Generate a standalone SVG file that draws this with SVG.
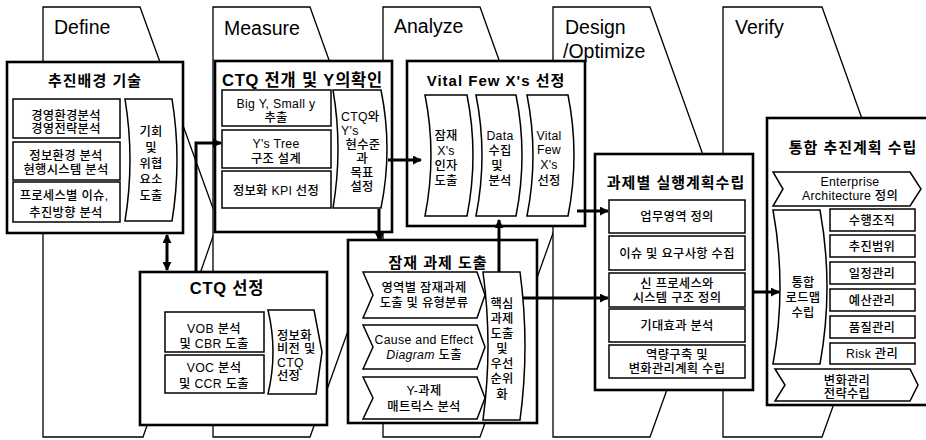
<svg xmlns="http://www.w3.org/2000/svg" width="926" height="440" viewBox="0 0 926 440">
<defs>
<marker id="ah" viewBox="0 0 10 10" refX="9" refY="5" markerWidth="3" markerHeight="3" orient="auto-start-reverse"><path d="M0,0 L10,5 L0,10 Z" fill="#000"/></marker>
<style>
.phase{fill:#fff;stroke:#000;stroke-width:1.3}
.box{fill:#fff;stroke:#000;stroke-width:2.6}
.ibox{fill:#fff;stroke:#000;stroke-width:1.5}
.ph{font-family:"Liberation Sans",Arial,sans-serif;font-size:19.5px;fill:#000}
.t{font-family:"Liberation Sans","Noto Sans CJK KR",sans-serif;font-size:12.3px;font-weight:500;letter-spacing:0.3px;text-anchor:middle;fill:#000}
.s{text-anchor:start}
.ttl{font-size:15px;font-weight:bold;letter-spacing:1px}
.big{font-size:16.5px;font-weight:bold;letter-spacing:0.8px}
.it{font-style:italic}
.conn{stroke:#000;stroke-width:3;fill:none}
</style>
</defs>
<rect width="926" height="440" fill="#fff"/>

<g id="phase-define"><path class="phase" d="M43,437 L43,7 L140,7 L218,222 L143,437 Z"/><text class="ph" x="54" y="34">Define</text></g>
<g id="phase-measure"><path class="phase" d="M213,437 L213,7 L310,7 L387,222 L310,437 Z"/><text class="ph" x="224" y="35">Measure</text></g>
<g id="phase-analyze"><path class="phase" d="M383,437 L383,7 L480,7 L557,222 L480,437 Z"/><text class="ph" x="394" y="33">Analyze</text></g>
<g id="phase-design"><path class="phase" d="M553,437 L553,7 L650,7 L727,222 L650,437 Z"/><text class="ph" x="565" y="34">Design</text><text class="ph" x="563" y="58">/Optimize</text></g>
<g id="phase-verify"><path class="phase" d="M723,437 L723,7 L822,7 L899,222 L822,437 Z"/><text class="ph" x="735" y="34">Verify</text></g>

<g id="node-background">
<rect class="box" x="7" y="62" width="176" height="171"/>
<text class="t ttl" x="95" y="86">추진배경 기술</text>
<rect class="ibox" x="13" y="99" width="107" height="39"/>
<text class="t" x="66" y="120">경영환경분석</text><text class="t" x="66" y="133">경영전략분석</text>
<rect class="ibox" x="13" y="142" width="107" height="38"/>
<text class="t" x="66" y="159.5">정보환경 분석</text><text class="t" x="66" y="173.5">현행시스템 분석</text>
<rect class="ibox" x="13" y="182" width="107" height="40"/>
<text class="t" x="64" y="199.5">프로세스별 이슈,</text><text class="t" x="66" y="216.5">추진방향 분석</text>
<path class="ibox" d="M125,99 Q135,160 125,221 L172,221 Q182,160 172,99 Z"/>
<text class="t" x="151" y="136">기회</text><text class="t" x="151" y="152">및</text><text class="t" x="151" y="168">위협</text><text class="t" x="151" y="184">요소</text><text class="t" x="151" y="200">도출</text>
</g>

<g id="node-ctq-deploy">
<rect class="box" x="215" y="61" width="177" height="171"/>
<text class="t big s" x="222" y="86">CTQ 전개 및 Y의확인</text>
<rect class="ibox" x="222" y="90" width="109" height="36"/>
<text class="t" x="276" y="107.5">Big Y, Small y</text><text class="t" x="276" y="121.5">추출</text>
<rect class="ibox" x="222" y="130" width="109" height="38"/>
<text class="t" x="276" y="147.5">Y's Tree</text><text class="t" x="276" y="162.5">구조 설계</text>
<rect class="ibox" x="222" y="171" width="109" height="37"/>
<text class="t" x="276" y="194.5">정보화 KPI 선정</text>
<path class="ibox" d="M333,90 Q343,149 333,208 L381,208 Q393,149 381,90 Z"/>
<text class="t s" x="341" y="121">CTQ와</text><text class="t s" x="341" y="135">Y's</text><text class="t" x="363" y="149">현수준</text><text class="t" x="362" y="163">과</text><text class="t" x="362" y="177">목표</text><text class="t" x="362" y="191">설정</text>
</g>

<g id="node-vital-few">
<rect class="box" x="407" y="61" width="178" height="165"/>
<text class="t ttl" x="496" y="86">Vital Few X's 선정</text>
<path class="ibox" d="M425,95 Q437,155 425,216 L467,216 Q479,155 467,95 Z"/>
<text class="t" x="446" y="139.5">잠재</text><text class="t" x="446" y="154.5">X's</text><text class="t" x="446" y="169.5">인자</text><text class="t" x="446" y="184.5">도출</text>
<path class="ibox" d="M476,95 Q488,155 476,216 L516,216 Q528,155 516,95 Z"/>
<text class="t" x="500" y="139.5">Data</text><text class="t" x="500" y="154.5">수집</text><text class="t" x="497" y="169.5">및</text><text class="t" x="500" y="184.5">분석</text>
<path class="ibox" d="M527,95 Q539,155 527,216 L568,216 Q580,155 568,95 Z"/>
<text class="t" x="549" y="139.5">Vital</text><text class="t" x="549" y="153.5">Few</text><text class="t" x="549" y="168.5">X's</text><text class="t" x="549" y="184.5">선정</text>
</g>

<g id="node-ctq-select">
<rect class="box" x="140" y="272" width="187" height="153"/>
<text class="t big" x="227" y="294">CTQ 선정</text>
<rect class="ibox" x="165" y="312" width="99" height="40"/>
<text class="t" x="214" y="332.5">VOB 분석</text><text class="t" x="214" y="347.5">및 CBR 도출</text>
<rect class="ibox" x="165" y="355" width="99" height="38"/>
<text class="t" x="214" y="371.5">VOC 분석</text><text class="t" x="214" y="387.5">및 CCR 도출</text>
<path class="ibox" d="M268,310 Q278,352 268,394 L316,394 L322,352 L314,310 Z"/>
<text class="t s" x="277" y="339.5">정보화</text><text class="t s" x="277" y="352.5">비전 및</text><text class="t s" x="277" y="366.5">CTQ</text><text class="t s" x="277" y="379.5">선정</text>
</g>

<g id="node-latent-tasks">
<rect class="box" x="348" y="240" width="189" height="183"/>
<text class="t ttl" x="438" y="268">잠재 과제 도출</text>
<path class="ibox" d="M363,272 L477,272 L485,295 L477,318 L363,318 L373,295 Z"/>
<text class="t" x="424" y="292">영역별 잠재과제</text><text class="t" x="424" y="307">도출 및 유형분류</text>
<path class="ibox" d="M363,325 L477,325 L485,347 L477,369 L363,369 L373,347 Z"/>
<text class="t" x="424" y="344">Cause and Effect</text><text class="t" x="424" y="359"><tspan class="it">Diagram</tspan> 도출</text>
<path class="ibox" d="M363,377 L477,377 L485,398 L477,419 L363,419 L373,398 Z"/>
<text class="t" x="424" y="395">Y-과제</text><text class="t" x="424" y="411">매트릭스 분석</text>
<path class="ibox" d="M483,272 Q493,346 483,420 L520,420 Q530,346 520,272 Z"/>
<text class="t" x="502" y="307.5">핵심</text><text class="t" x="502" y="322.5">과제</text><text class="t" x="502" y="338">도출</text><text class="t" x="502" y="352.5">및</text><text class="t" x="502" y="367.5">우선</text><text class="t" x="502" y="382.5">순위</text><text class="t" x="502" y="398.5">화</text>
</g>

<g id="node-exec-plan">
<rect class="box" x="595" y="154" width="158" height="236"/>
<text class="t ttl" x="676" y="188">과제별 실행계획수립</text>
<rect class="ibox" x="609" y="200" width="136" height="33"/>
<text class="t" x="677" y="221">업무영역 정의</text>
<rect class="ibox" x="609" y="236" width="136" height="34"/>
<text class="t" x="677" y="257.5">이슈 및 요구사항 수집</text>
<rect class="ibox" x="609" y="273" width="136" height="34"/>
<text class="t" x="677" y="287.5">신 프로세스와</text><text class="t" x="677" y="301.5">시스템 구조 정의</text>
<rect class="ibox" x="609" y="309" width="136" height="33"/>
<text class="t" x="677" y="330">기대효과 분석</text>
<rect class="ibox" x="609" y="345" width="136" height="33"/>
<text class="t" x="677" y="358.5">역량구축 및</text><text class="t" x="677" y="372.5">변화관리계획 수립</text>
</g>

<g id="node-integrated-plan">
<rect class="box" x="767" y="118" width="175" height="287"/>
<text class="t ttl" x="853" y="153">통합 추진계획 수립</text>
<path class="ibox" d="M773,172 L910,172 L921,189 L910,206 L773,206 L783,189 Z"/>
<text class="t" x="850" y="186">Enterprise</text><text class="t" x="850" y="200">Architecture  정의</text>
<path class="ibox" d="M773,210 Q787,287 773,364 L820,364 Q834,287 820,210 Z"/>
<text class="t" x="803" y="286.5">통합</text><text class="t" x="803" y="301.5">로드맵</text><text class="t" x="803" y="316.5">수립</text>
<rect class="ibox" x="830" y="209" width="85" height="22"/><text class="t" x="872" y="224.5">수행조직</text>
<rect class="ibox" x="830" y="235" width="85" height="22"/><text class="t" x="872" y="250.5">추진범위</text>
<rect class="ibox" x="830" y="262" width="85" height="22"/><text class="t" x="872" y="277.5">일정관리</text>
<rect class="ibox" x="830" y="289" width="85" height="22"/><text class="t" x="872" y="304.5">예산관리</text>
<rect class="ibox" x="830" y="316" width="85" height="22"/><text class="t" x="872" y="331.5">품질관리</text>
<rect class="ibox" x="830" y="343" width="85" height="21"/><text class="t" x="872" y="358">Risk  관리</text>
<path class="ibox" d="M775,369 L910,369 L918,385 L910,401 L775,401 L785,385 Z"/>
<text class="t" x="847" y="384.5">변화관리</text><text class="t" x="847" y="397.5">전략수립</text>
</g>

<g id="connectors">
<line class="conn" x1="167" y1="235" x2="167" y2="270" marker-start="url(#ah)" marker-end="url(#ah)"/>
<polyline class="conn" points="196,272 196,143 221,143" marker-end="url(#ah)"/>
<line class="conn" x1="388" y1="160" x2="421" y2="160" marker-end="url(#ah)"/>
<line class="conn" x1="379" y1="209" x2="379" y2="240" marker-end="url(#ah)"/>
<line class="conn" x1="499" y1="272" x2="499" y2="220" marker-end="url(#ah)"/>
<line class="conn" x1="577" y1="211" x2="608" y2="211" marker-end="url(#ah)"/>
<line class="conn" x1="523" y1="298" x2="608" y2="298" marker-end="url(#ah)"/>
<line class="conn" x1="753" y1="292" x2="779" y2="292" marker-end="url(#ah)"/>
</g>
</svg>
